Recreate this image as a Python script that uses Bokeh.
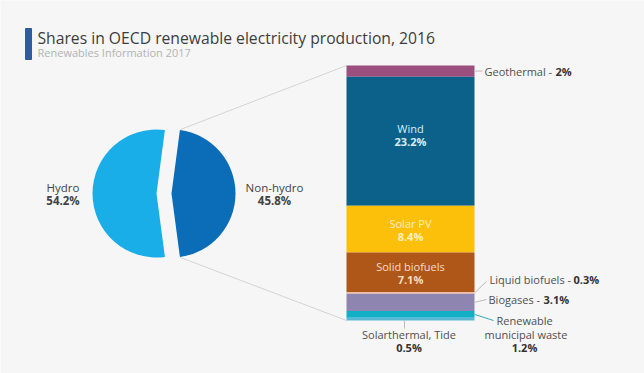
import numpy as np
from bokeh.plotting import figure
from bokeh.models import Range1d, ColumnDataSource
from bokeh.core.properties import value
from bokeh.embed import file_html
from bokeh.resources import INLINE

# ---- data ----
pie_labels = ["Hydro", "Non-hydro"]
pie_values = [54.2, 45.8]
pie_colors = ["#1aaee8", "#0b6cb8"]

# non-hydro breakdown, top to bottom
bar_labels = ["Geothermal", "Wind", "Solar PV", "Solid biofuels", "Liquid biofuels",
              "Biogases", "Renewable municipal waste", "Solarthermal, Tide"]
bar_values = [2.0, 23.2, 8.4, 7.1, 0.3, 3.1, 1.2, 0.5]
bar_colors = ["#9a4f7e", "#0c618b", "#fcbf0a", "#ae5719", "#efbfa8",
              "#8e86b0", "#12afc7", "#5ab8d6"]

title = "Shares in OECD renewable electricity production, 2016"
subtitle = "Renewables Information 2017"

FONT = "Open Sans"
BG = "#f6f6f6"
W, H = 644, 373

# bar scale: percent units mapped on y (bar spans image rows 65..320)
px_per_pct = 255 / 45.8
bottom_px = H - 320
y0 = -bottom_px / px_per_pct
y1 = (H - bottom_px) / px_per_pct

p = figure(width=W, height=H, x_range=Range1d(0, W), y_range=Range1d(y0, y1),
           output_backend="svg", toolbar_location=None,
           x_axis_location=None, y_axis_location=None, min_border=0,
           background_fill_color=BG, border_fill_color=BG, outline_line_color=None)
p.grid.visible = False
p.extra_y_ranges = {"px": Range1d(0, H)}

def PY(img_y):
    return H - img_y

def PX(img_x):
    return img_x

def PCT(img_y):
    return (H - img_y - bottom_px) / px_per_pct

# ---- title ----
p.quad(left=[PX(25)], right=[PX(31)], top=[PY(28)], bottom=[PY(59)],
       color="#2f5c9a", y_range_name="px")
p.text(x=[PX(37)], y=[PY(37)], text=[title], text_font=value(FONT),
       text_font_size="15.7px", text_color="#3d3d3d", text_baseline="middle",
       y_range_name="px")
p.text(x=[PX(37)], y=[PY(52)], text=[subtitle], text_font=value(FONT),
       text_font_size="11px", text_color="#b3b3b3", text_baseline="middle",
       y_range_name="px")

# ---- pie ----
cx, cy, r, explode = PX(163.5), PY(193), 64, 7.5
fr = np.array(pie_values) / sum(pie_values)
span = fr * 2 * np.pi
mid = np.array([np.pi, 0.0])
starts = mid - span / 2
ends = mid + span / 2
xs = cx + explode * np.cos(mid)
ys = cy + explode * np.sin(mid)
p.wedge(x=xs, y=ys, radius=r, radius_units="screen", start_angle=starts,
        end_angle=ends, color=pie_colors, line_color=None, y_range_name="px")

# leaders pie -> bar
bar_x = PX(410)
bar_w = 128
p.segment(x0=[PX(180), PX(180)], y0=[PY(129), PY(257)],
          x1=[bar_x - bar_w / 2] * 2, y1=[PY(65), PY(320)],
          line_color="#d4d4d4", line_width=1, y_range_name="px")

pie_lab_x = [PX(62.5), PX(274)]
p.text(x=pie_lab_x, y=[PY(187)] * 2, text=pie_labels, text_font=value(FONT),
       text_font_size="11.5px", text_color="#444444", text_align="center",
       text_baseline="middle", y_range_name="px")
p.text(x=pie_lab_x, y=[PY(200)] * 2, text=[f"{v}%" for v in pie_values],
       text_font=value(FONT), text_font_size="11.5px", text_font_style="bold",
       text_color="#444444", text_align="center", text_baseline="middle",
       y_range_name="px")

# ---- stacked bar ----
vals_bu = np.array(bar_values[::-1])
tops_bu = np.cumsum(vals_bu)
bots_bu = tops_bu - vals_bu
tops = tops_bu[::-1]
bots = bots_bu[::-1]
src = ColumnDataSource(dict(x=[bar_x] * len(bar_values), top=tops, bottom=bots,
                            color=bar_colors))
p.vbar(x="x", width=bar_w, top="top", bottom="bottom", color="color",
       line_color=None, source=src)

# labels inside bar
inner = [1, 2, 3]
inner_colors = ["#d6eef8", "#fff0c0", "#f7dcc6"]
inner_off = [-13, -6, -6]
for i, c, off in zip(inner, inner_colors, inner_off):
    m = (tops[i] + bots[i]) / 2
    p.text(x=[bar_x], y=[m], text=[bar_labels[i]], text_font=value(FONT),
           text_font_size="11px", text_color=c, text_align="center",
           text_baseline="middle", y_offset=off)
    p.text(x=[bar_x], y=[m], text=[f"{bar_values[i]}%"], text_font=value(FONT),
           text_font_size="11px", text_font_style="bold", text_color=c,
           text_align="center", text_baseline="middle", y_offset=off + 13)

# labels on the right
right_edge = bar_x + bar_w / 2
lab_col = "#505050"
bold_col = "#333333"
# geothermal
gm = (tops[0] + bots[0]) / 2
p.segment(x0=[right_edge], y0=[gm], x1=[right_edge + 8], y1=[gm],
          line_color="#bbbbbb", line_width=1)
p.text(x=[PX(484)], y=[gm], text=[f"{bar_labels[0]} - "], text_font=value(FONT),
       text_font_size="11px", text_color=lab_col, text_baseline="middle")
p.text(x=[PX(555)], y=[gm], text=["2%"], text_font=value(FONT),
       text_font_size="11px", text_font_style="bold", text_color=bold_col,
       text_baseline="middle")

# liquid biofuels
lm = (tops[4] + bots[4]) / 2
p.segment(x0=[right_edge], y0=[lm], x1=[PX(486)], y1=[PCT(281)],
          line_color="#bbbbbb", line_width=1)
p.text(x=[PX(489)], y=[PY(279)], text=[f"{bar_labels[4]} - "], text_font=value(FONT),
       text_font_size="11px", text_color=lab_col, text_baseline="middle",
       y_range_name="px")
p.text(x=[PX(573)], y=[PY(279)], text=[f"{bar_values[4]}%"], text_font=value(FONT),
       text_font_size="11px", text_font_style="bold", text_color=bold_col,
       text_baseline="middle", y_range_name="px")

# biogases
bm = (tops[5] + bots[5]) / 2
p.segment(x0=[right_edge], y0=[bm], x1=[PX(486)], y1=[PCT(299)],
          line_color="#bbbbbb", line_width=1)
p.text(x=[PX(488)], y=[PY(299)], text=[f"{bar_labels[5]} - "], text_font=value(FONT),
       text_font_size="11px", text_color=lab_col, text_baseline="middle",
       y_range_name="px")
p.text(x=[PX(543)], y=[PY(299)], text=[f"{bar_values[5]}%"], text_font=value(FONT),
       text_font_size="11px", text_font_style="bold", text_color=bold_col,
       text_baseline="middle", y_range_name="px")

# renewable municipal waste
rm = (tops[6] + bots[6]) / 2
p.segment(x0=[right_edge], y0=[rm], x1=[PX(493)], y1=[PCT(320)],
          line_color="#3aa9b5", line_width=1)
p.text(x=[PX(496)], y=[PY(320)], text=["Renewable"], text_font=value(FONT),
       text_font_size="11px", text_color=lab_col, text_baseline="middle",
       y_range_name="px")
p.text(x=[PX(484)], y=[PY(334)], text=["municipal waste"], text_font=value(FONT),
       text_font_size="11px", text_color=lab_col, text_baseline="middle",
       y_range_name="px")
p.text(x=[PX(524)], y=[PY(347)], text=[f"{bar_values[6]}%"], text_font=value(FONT),
       text_font_size="11px", text_font_style="bold", text_color=bold_col,
       text_align="center", text_baseline="middle", y_range_name="px")

# solarthermal
p.segment(x0=[PX(404)], y0=[0], x1=[PX(404)], y1=[PCT(328)],
          line_color="#bbbbbb", line_width=1)
p.text(x=[PX(408.5)], y=[PY(334)], text=[bar_labels[7]], text_font=value(FONT),
       text_font_size="11px", text_color=lab_col, text_align="center",
       text_baseline="middle", y_range_name="px")
p.text(x=[PX(408.5)], y=[PY(347)], text=[f"{bar_values[7]}%"], text_font=value(FONT),
       text_font_size="11px", text_font_style="bold", text_color=bold_col,
       text_align="center", text_baseline="middle", y_range_name="px")

open("out.html", "w").write(file_html(p, INLINE))
